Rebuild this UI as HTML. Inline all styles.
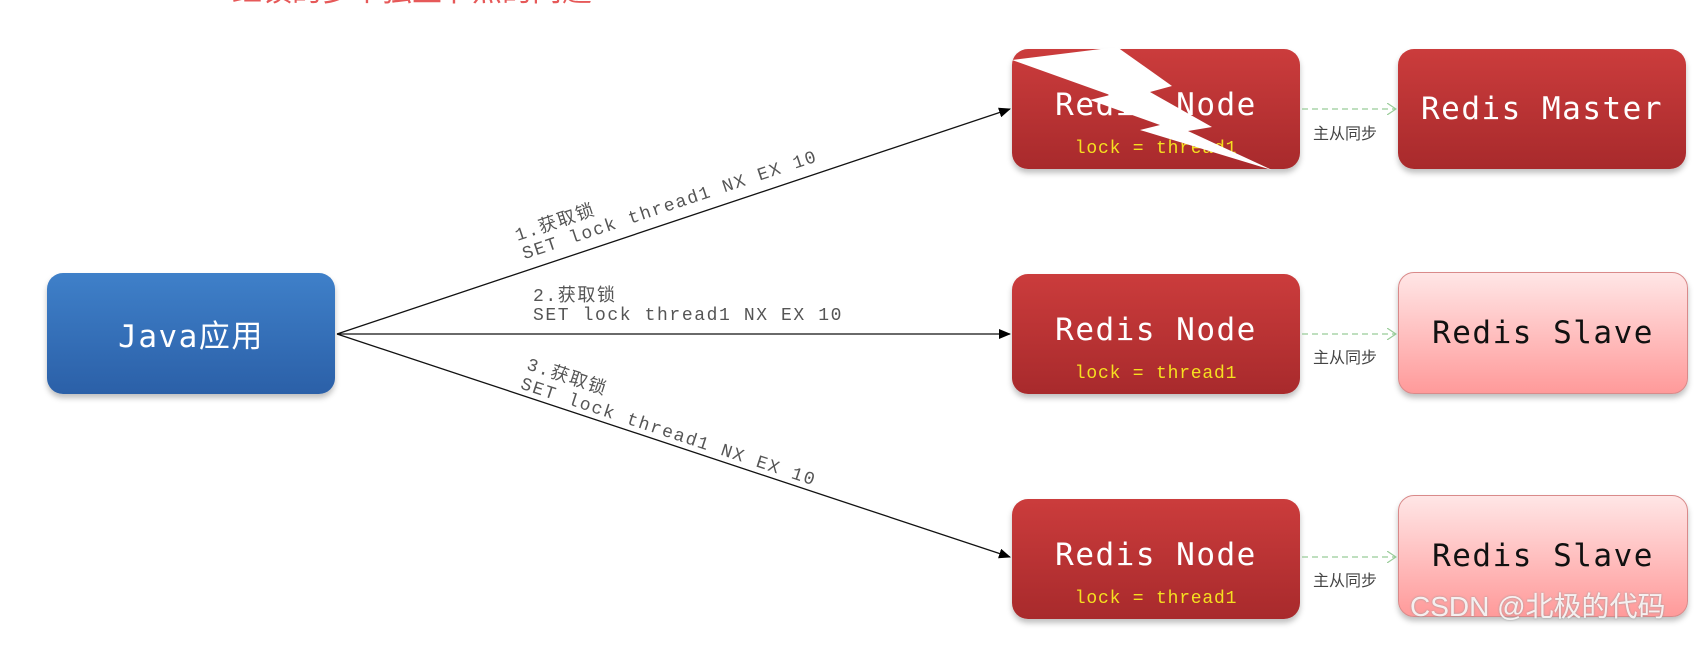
<!DOCTYPE html>
<html><head><meta charset="utf-8"><style>
body{margin:0;width:1706px;height:647px;background:#fff;overflow:hidden;position:relative;font-family:"Liberation Sans","Noto Sans CJK SC",sans-serif}
.b{position:absolute;border-radius:16px;display:flex;flex-direction:column;align-items:center;justify-content:center;box-shadow:0 4px 6px rgba(0,0,0,.25)}
.red{background:linear-gradient(#cb3c3c,#a82a2c);color:#fff}
.pink{background:linear-gradient(#ffe6e6,#ff9a9a);border:1px solid #d98a8a;color:#111}
.t{font-family:"DejaVu Sans Mono","Liberation Mono",monospace;font-size:31px;letter-spacing:1.5px}
.l{font-family:"Liberation Mono",monospace;font-size:18px;color:#f5e020;margin-top:16px;letter-spacing:0.8px}
.lab{position:absolute;font-family:"Liberation Mono","Noto Sans CJK SC",monospace;font-size:18px;color:#555;letter-spacing:1.6px;white-space:nowrap;transform-origin:0 0}
.zc{position:absolute;font-size:16px;color:#444;font-family:"Noto Sans CJK SC",sans-serif}
</style></head><body>
<div style="position:absolute;left:232px;top:-34px;color:#e03030;font-size:30px;font-family:'Noto Sans CJK SC',sans-serif;opacity:.8">红锁的多个独立节点的问题</div>
<div class="b" style="left:47px;top:273px;width:288px;height:121px;background:linear-gradient(#3f80c9,#2b60a8);color:#fff"><span class="t" style="font-family:'DejaVu Sans Mono','Noto Sans CJK SC',monospace">Java应用</span></div>

<div class="b red" style="left:1012px;top:49px;width:288px;height:120px"><span class="t" style="margin-top:28px">Redis Node</span><span class="l">lock = thread1</span></div>
<div class="b red" style="left:1012px;top:274px;width:288px;height:120px"><span class="t" style="margin-top:28px">Redis Node</span><span class="l">lock = thread1</span></div>
<div class="b red" style="left:1012px;top:499px;width:288px;height:120px"><span class="t" style="margin-top:28px">Redis Node</span><span class="l">lock = thread1</span></div>

<div class="b red" style="left:1398px;top:49px;width:288px;height:120px"><span class="t">Redis Master</span></div>
<div class="b pink" style="left:1398px;top:272px;width:288px;height:120px"><span class="t">Redis Slave</span></div>
<div class="b pink" style="left:1398px;top:495px;width:288px;height:120px"><span class="t">Redis Slave</span></div>

<svg width="1706" height="647" style="position:absolute;left:0;top:0">
<defs><marker id="a" markerWidth="12" markerHeight="10" refX="11" refY="5" orient="auto" markerUnits="userSpaceOnUse"><path d="M0,0 L12,5 L0,10 z" fill="#000"/></marker>
<marker id="g" markerWidth="10" markerHeight="12" refX="9" refY="6" orient="auto" markerUnits="userSpaceOnUse"><path d="M0,0 L9,6 L0,12" fill="none" stroke="#9c9" stroke-width="1.2"/></marker></defs>
<g stroke="#111" stroke-width="1.3" fill="none">
<line x1="337" y1="334" x2="1010" y2="109" marker-end="url(#a)"/>
<line x1="337" y1="334" x2="1010" y2="334" marker-end="url(#a)"/>
<line x1="337" y1="334" x2="1010" y2="557" marker-end="url(#a)"/>
</g>
<g stroke="#9c9" stroke-width="1.2" stroke-dasharray="6,4">
<line x1="1302" y1="109" x2="1396" y2="109" marker-end="url(#g)"/>
<line x1="1302" y1="334" x2="1396" y2="334" marker-end="url(#g)"/>
<line x1="1302" y1="557" x2="1396" y2="557" marker-end="url(#g)"/>
</g>
<polygon fill="#fff" points="1012,60 1117,47 1172,86 1150,92 1212,127 1188,131 1272,170 1140,130 1160,125 1090,100 1110,95"/>
</svg>

<div class="lab" style="left:511px;top:222px;transform:rotate(-18.5deg)">1.获取锁</div>
<div class="lab" style="left:520px;top:246px;transform:rotate(-18.5deg)">SET lock thread1 NX EX 10</div>
<div class="lab" style="left:533px;top:281px">2.获取锁</div>
<div class="lab" style="left:533px;top:306px">SET lock thread1 NX EX 10</div>
<div class="lab" style="left:532px;top:350px;transform:rotate(18.3deg)">3.获取锁</div>
<div class="lab" style="left:524px;top:375px;transform:rotate(18.3deg)">SET lock thread1 NX EX 10</div>

<div class="zc" style="left:1313px;top:120px">主从同步</div>
<div class="zc" style="left:1313px;top:344px">主从同步</div>
<div class="zc" style="left:1313px;top:567px">主从同步</div>
<div style="position:absolute;left:1410px;top:585px;font-size:28px;color:rgba(255,255,255,.85);text-shadow:0 0 2px #999;font-family:'Liberation Sans','Noto Sans CJK SC',sans-serif">CSDN @北极的代码</div>
</body></html>
